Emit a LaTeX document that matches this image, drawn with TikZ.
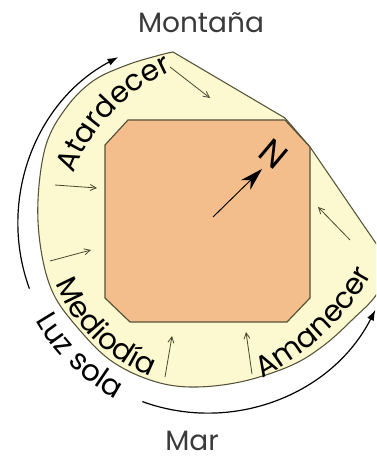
\documentclass[tikz,border=0pt]{standalone}
\usepackage{fontspec}
\setmainfont{Poppins}
\usetikzlibrary{arrows.meta,decorations.text}
\definecolor{fondo}{HTML}{FCF8CF}
\definecolor{casa}{HTML}{F3BE8B}
\definecolor{borde}{HTML}{55533A}
\definecolor{flecha}{HTML}{4A4A30}
\definecolor{letra}{HTML}{3A3A3A}
\newcommand\arco{\fontsize{22}{24}\selectfont}

\begin{document}
\begin{tikzpicture}[x=0.75pt,y=0.75pt,
  zona/.style={fill=fondo,draw=borde,line width=0.8pt},
  planta/.style={fill=casa,draw=borde,line width=0.9pt},
  viento/.style={draw=flecha,line width=0.6pt,-{Straight Barb[length=4.5pt,width=4.5pt]}},
  sol/.style={draw=black,line width=0.9pt,-{Latex[length=8pt,width=5.5pt]}},
  brujula/.style={draw=black,line width=0.7pt,-{Stealth[length=17pt,width=10pt,inset=5pt]}},
  rotulo/.style={font=\fontsize{21}{24}\selectfont,text=letra,inner sep=0pt},
  curva/.style={decorate,decoration={text along path,text={|\arco|#1}}}]
\useasboundingbox (0,0) rectangle (376,459);
\clip (0,0) rectangle (376,459);

\path[zona] (173,407) -- (285,341) -- (310,312) -- (386,201)
  -- plot[smooth,tension=0.6] coordinates {(386,201) (378,167) (352,139) (323,113) (290,93) (240,77) (190,72) (150,79) (110,99) (77,132) (53,166) (41,209) (38,259) (46,314) (66,351) (93,378) (127,394) (160,404) (173,407)} -- cycle;
\path[planta] (128,339) -- (285,339) -- (310,312) -- (310,161) -- (287,137) -- (130,137) -- (105,161) -- (105,314) -- cycle;

\draw[sol] (207,235) ++(200:189) arc[start angle=200,end angle=118,radius=189];
\draw[sol] (207,235) ++(250:189) arc[start angle=250,end angle=333,radius=189];

\node[rotulo,anchor=base] (montana) at (201,426) {Montaña};
\node[rotulo,anchor=base] (mar) at (192,8) {Mar};

\path[curva=Atardecer] (74,285) .. controls (90,330) and (130,375) .. (190,395);
\path[curva=Mediodía,decoration={text align=center}] (207,235) ++(185:162) arc[start angle=185,end angle=266,radius=162];
\path[curva=Amanecer] (262,81) .. controls (305,104) and (365,150) .. (386,219);
\path[curva=Luz sola,decoration={text align=center}] (207,235) ++(190:197) arc[start angle=190,end angle=262,radius=197];

\coordinate (v1a) at (170,392); \coordinate (v1b) at (210,361);
\coordinate (v2a) at (55,274);  \coordinate (v2b) at (97,271);
\coordinate (v3a) at (50,198);  \coordinate (v3b) at (91,209);
\coordinate (v4a) at (165,82);  \coordinate (v4b) at (172,123);
\coordinate (v5a) at (252,85);  \coordinate (v5b) at (246,127);
\coordinate (v6a) at (350,219); \coordinate (v6b) at (318,252);
\draw[viento] (v1a) -- (v1b);
\draw[viento] (v2a) -- (v2b);
\draw[viento] (v3a) -- (v3b);
\draw[viento] (v4a) -- (v4b);
\draw[viento] (v5a) -- (v5b);
\draw[viento] (v6a) -- (v6b);

\node[rotulo,text=black,font=\fontsize{26}{28}\selectfont,rotate=-40] (norte) at (274,305) {N};
\coordinate (cola) at (213,242);
\coordinate (punta) at (262,290);
\draw[brujula] (cola) -- (punta);
\end{tikzpicture}
\end{document}
